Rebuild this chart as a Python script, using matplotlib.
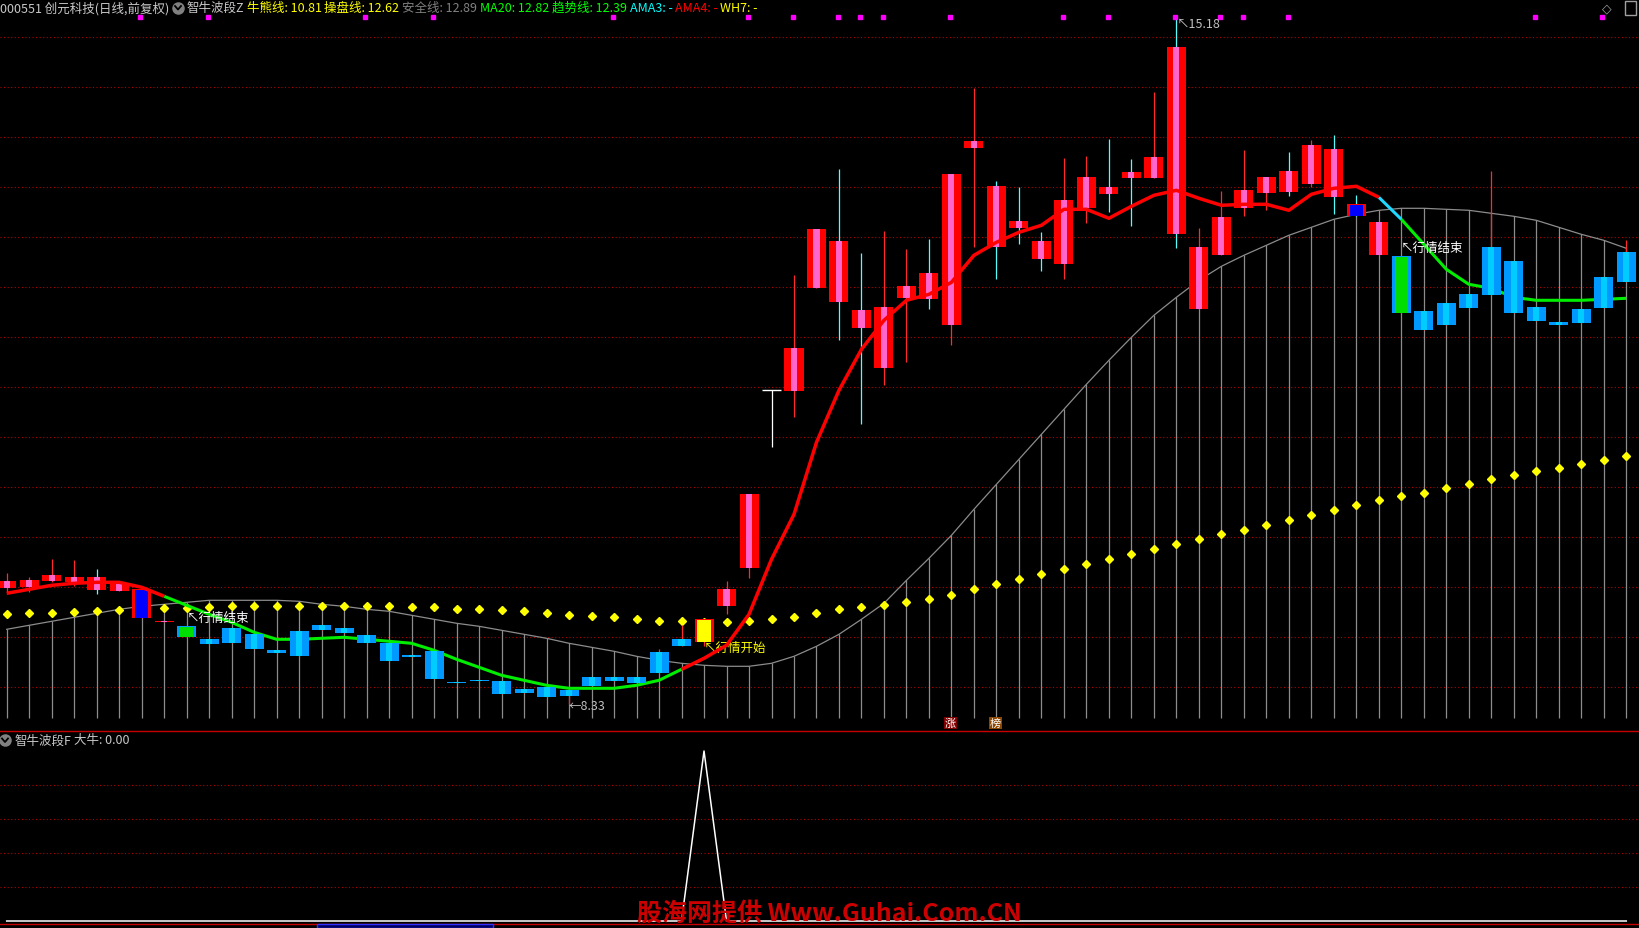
import matplotlib
matplotlib.use('Agg')
import matplotlib.pyplot as plt
from matplotlib.lines import Line2D
from matplotlib.patches import Rectangle
import numpy as np

plt.rcParams['font.family'] = ['Noto Sans CJK SC', 'DejaVu Sans']

# ---- K线数据 ----
opens = [9.49, 9.50, 9.56, 9.55, 9.47, 9.46, 9.48, 9.15, 9.11, 8.98,
         9.09, 9.03, 8.87, 9.06, 9.12, 9.09, 9.02, 8.94, 8.82, 8.86,
         8.55, 8.57, 8.56, 8.48, 8.50, 8.47, 8.60, 8.60, 8.60, 8.85,
         8.98, 8.95, 9.31, 9.69, 11.47, 11.46, 12.49, 12.35, 12.09, 11.69,
         12.39, 12.38, 12.12, 13.89, 12.90, 13.09, 12.78, 12.73, 13.29, 13.43,
         13.59, 13.59, 13.03, 12.28, 12.82, 13.29, 13.44, 13.45, 13.53, 13.40,
         13.33, 12.82, 12.81, 12.26, 12.34, 12.43, 12.90, 12.76, 12.30, 12.15,
         12.28, 12.60, 12.85]
highs = [9.64, 9.60, 9.78, 9.77, 9.68, 9.54, 9.48, 9.16, 9.11, 8.98,
         9.09, 9.03, 8.87, 9.06, 9.12, 9.09, 9.02, 8.94, 8.82, 8.86,
         8.55, 8.57, 8.56, 8.48, 8.50, 8.47, 8.60, 8.60, 8.60, 8.88,
         9.12, 9.18, 9.56, 10.43, 11.47, 12.62, 13.08, 13.68, 12.84, 13.06,
         12.88, 12.98, 13.63, 14.49, 13.56, 13.50, 13.05, 13.79, 13.81, 13.98,
         13.78, 14.45, 15.18, 13.09, 13.46, 13.87, 13.60, 13.85, 13.97, 14.02,
         13.42, 13.15, 12.81, 12.26, 12.34, 12.43, 13.66, 12.76, 12.30, 12.15,
         12.28, 12.60, 12.97]
lows = [9.45, 9.45, 9.55, 9.51, 9.43, 9.46, 9.19, 9.15, 9.00, 8.93,
        8.94, 8.88, 8.84, 8.81, 9.07, 9.04, 8.94, 8.76, 8.80, 8.58,
        8.54, 8.56, 8.43, 8.44, 8.40, 8.33, 8.51, 8.56, 8.54, 8.64,
        8.91, 8.91, 9.23, 9.59, 10.90, 11.20, 12.49, 11.97, 11.13, 11.52,
        11.75, 12.28, 11.92, 12.90, 12.58, 12.93, 12.66, 12.58, 13.14, 13.25,
        13.11, 13.59, 12.89, 12.28, 12.82, 13.21, 13.27, 13.41, 13.50, 13.23,
        13.21, 12.82, 12.24, 12.07, 12.12, 12.29, 12.42, 12.24, 12.16, 12.12,
        12.14, 12.29, 12.55]
closes = [9.56, 9.57, 9.62, 9.60, 9.60, 9.54, 9.19, 9.16, 9.00, 8.93,
          8.94, 8.88, 8.84, 8.81, 9.07, 9.04, 8.94, 8.76, 8.80, 8.58,
          8.54, 8.56, 8.43, 8.44, 8.40, 8.41, 8.51, 8.56, 8.54, 8.64,
          8.91, 9.18, 9.48, 10.43, 11.47, 11.89, 13.08, 12.96, 12.27, 12.30,
          12.51, 12.64, 13.63, 13.96, 13.51, 13.16, 12.96, 13.37, 13.60, 13.50,
          13.65, 13.80, 14.90, 12.90, 13.20, 13.47, 13.60, 13.66, 13.92, 13.88,
          13.21, 13.15, 12.24, 12.07, 12.12, 12.29, 12.42, 12.24, 12.16, 12.12,
          12.14, 12.29, 12.55]
# r红 b蓝 X蓝底红边 G绿底蓝边 Y黄底红边 W十字星
kinds = ("rrrrrrXrG"
         "bbbbbbbbbbbbbbbbbbbbbb"
         "YrrW"
         "rrrrrrrrrrrrrrrrrrrrrrrrr"
         "XrG"
         "bbbbbbbbbb")
cyan_wick = [4, 37, 38, 41, 44, 45, 46, 49, 50, 52, 57, 59, 60]

# 趋势线
trend = [9.44, 9.48, 9.52, 9.54, 9.55, 9.55, 9.50, 9.41, 9.32, 9.23,
         9.15, 9.05, 8.98, 8.98, 8.99, 9.00, 8.98, 8.96, 8.94, 8.87,
         8.78, 8.70, 8.62, 8.57, 8.52, 8.49, 8.49, 8.49, 8.52, 8.57,
         8.68, 8.79, 8.92, 9.23, 9.78, 10.23, 10.95, 11.47, 11.88, 12.17,
         12.37, 12.43, 12.55, 12.82, 12.95, 13.05, 13.12, 13.28, 13.28, 13.19,
         13.31, 13.42, 13.47, 13.39, 13.32, 13.33, 13.33, 13.27, 13.43, 13.49,
         13.51, 13.40, 13.18, 12.93, 12.68, 12.53, 12.49, 12.40, 12.37, 12.37,
         12.37, 12.38, 12.39]
# 安全线
safety = [9.08, 9.12, 9.16, 9.20, 9.24, 9.28, 9.31, 9.33, 9.35, 9.37,
          9.37, 9.37, 9.37, 9.36, 9.33, 9.31, 9.28, 9.26, 9.22, 9.18,
          9.14, 9.11, 9.07, 9.03, 8.99, 8.94, 8.90, 8.86, 8.81, 8.77,
          8.74, 8.72, 8.71, 8.71, 8.74, 8.81, 8.91, 9.03, 9.18, 9.34,
          9.57, 9.79, 10.02, 10.28, 10.53, 10.78, 11.03, 11.28, 11.53, 11.77,
          12.00, 12.22, 12.40, 12.57, 12.71, 12.82, 12.92, 13.02, 13.10, 13.18,
          13.23, 13.27, 13.29, 13.29, 13.28, 13.27, 13.24, 13.21, 13.17, 13.10,
          13.03, 12.97, 12.89]
# 牛熊线
bullbear = [9.23, 9.24, 9.24, 9.25, 9.26, 9.27, 9.28, 9.29, 9.29, 9.30,
            9.31, 9.31, 9.31, 9.31, 9.31, 9.31, 9.31, 9.31, 9.30, 9.30,
            9.28, 9.28, 9.27, 9.26, 9.24, 9.22, 9.21, 9.20, 9.18, 9.16,
            9.16, 9.15, 9.15, 9.16, 9.18, 9.20, 9.24, 9.28, 9.30, 9.32,
            9.35, 9.38, 9.42, 9.48, 9.53, 9.58, 9.63, 9.68, 9.73, 9.78,
            9.83, 9.88, 9.93, 9.98, 10.03, 10.07, 10.12, 10.17, 10.22, 10.27,
            10.32, 10.37, 10.41, 10.44, 10.49, 10.53, 10.58, 10.62, 10.66, 10.69,
            10.73, 10.77, 10.81]
flags = [6, 9, 16, 19, 27, 33, 35, 37, 38, 39, 42, 47, 49, 52, 54, 55, 57, 68, 71]
# 副图 大牛
signal = [0, 0, 0, 0, 0, 0, 0, 0, 0, 0, 0, 0, 0, 0, 0, 0, 0, 0, 0, 0,
          0, 0, 0, 0, 0, 0, 0, 0, 0, 0, 0, 1, 0, 0, 0, 0, 0, 0, 0, 0,
          0, 0, 0, 0, 0, 0, 0, 0, 0, 0, 0, 0, 0, 0, 0, 0, 0, 0, 0, 0,
          0, 0, 0, 0, 0, 0, 0, 0, 0, 0, 0, 0, 0]

header = [("000551 创元科技(日线,前复权)", '#c8c8c8', 0),
          ("智牛波段Z", '#c8c8c8', 187),
          ("牛熊线: 10.81", '#ffff00', 247),
          ("操盘线: 12.62", '#ffff00', 324),
          ("安全线: 12.89", '#808080', 402),
          ("MA20: 12.82", '#00ff00', 480),
          ("趋势线: 12.39", '#00ff00', 552),
          ("AMA3: -", '#00ffff', 630),
          ("AMA4: -", '#ff0000', 675),
          ("WH7: -", '#ffff00', 720)]

W, H = 1640, 929
fig = plt.figure(figsize=(16.4, 9.29), dpi=100, facecolor='black')


def fx(px):
    return px / W


def fy(py):
    return 1 - py / H


ax = fig.add_axes([0, fy(732), 1, 732 / H])
ax2 = fig.add_axes([0, fy(925), 1, (925 - 732) / H])
for a in (ax, ax2):
    a.set_facecolor('black')
    a.set_xlim(-0.298, 72.61)
    a.set_xticks([])
    a.set_yticks([])
    for s in a.spines.values():
        s.set_visible(False)
ax.set_ylim(8.063, 15.383)
ax2.set_ylim(-0.0176, 1.1176)
for side in ('top', 'bottom'):
    ax2.spines[side].set_visible(True)
    ax2.spines[side].set_color('#c80000')
    ax2.spines[side].set_linewidth(1.0)

grid_kw = dict(color='#b40000', lw=0.8, ls=(0, (1, 2.2)), zorder=0.5)
for p in np.arange(8.5, 15.01, 0.5):
    ax.axhline(p, **grid_kw)
for v in (0.2, 0.4, 0.6, 0.8):
    ax2.axhline(v, **grid_kw)

x = np.arange(len(opens))

# 安全线 + 柱
ax.vlines(x, 8.193, safety, color='#8c8c8c', lw=0.9, zorder=1)
ax.plot(x, safety, color='#8c8c8c', lw=0.9, zorder=1.1)

# 牛熊线点
ax.plot(x, bullbear, 'D', color='#ffff00', ms=4, ls='none', zorder=2)

# 趋势线
segs = [(0, 7, '#ff0000', 6, 2.5), (7, 30, '#00ee00', 3.5, 2.2),
        (30, 61, '#ff0000', 6, 2.5), (61, 62, '#20d8ff', 3.5, 2.2),
        (62, 72, '#00ee00', 3.5, 2.2)]
for s, e, c, z, lw in segs:
    ax.plot(x[s:e + 1], trend[s:e + 1], color=c, lw=lw, zorder=z,
            solid_capstyle='butt')

# K线
o = np.array(opens)
c = np.array(closes)
lo = np.minimum(o, c)
hgt = np.maximum(np.abs(c - o), 0.018)
wick_col = []
for i, k in enumerate(kinds):
    if k == 'W':
        wick_col.append('#ffffff')
    elif i in cyan_wick:
        wick_col.append('#54fcfc')
    else:
        wick_col.append('#ff2a2a')
ax.vlines(x, lows, highs, colors=wick_col, lw=0.9, zorder=3)

outer = {'r': '#ff0000', 'b': '#0099ff', 'X': '#ff0000', 'G': '#0099ff', 'Y': '#ff0000'}
inner = {'r': '#ff66cc', 'b': '#00ccff', 'X': '#0000ff', 'G': '#00dd00', 'Y': '#ffff00'}
for i, k in enumerate(kinds):
    if k == 'W':
        ax.hlines(closes[i], i - 0.42, i + 0.42, color='white', lw=1, zorder=4)
        continue
    ax.bar(i, hgt[i], 0.845, lo[i], color=outer[k], lw=0, zorder=4)
    if k in 'rb':
        ax.bar(i, hgt[i], 0.27, lo[i], color=inner[k], lw=0, zorder=4.1)
    else:
        ax.bar(i, hgt[i] - 0.016, 0.58, lo[i] + 0.008, color=inner[k], lw=0, zorder=4.1)

# 顶部标记
ax.plot(np.array(flags) - 0.06, [15.2] * len(flags), 's', color='#ff00ff', ms=2.4,
        ls='none', zorder=5)

# 文字标注
ax.text(8, 9.20, "↖行情结束", color='white', fontsize=9, va='center', ha='left', zorder=7)
ax.text(31, 8.90, "↖行情开始", color='#ffff00', fontsize=9, va='center', ha='left', zorder=5)
ax.text(62, 12.90, "↖行情结束", color='white', fontsize=9, va='center', ha='left', zorder=7)
ax.text(25, 8.316, "←8.33", color='#c0c0c0', fontsize=9, va='center', ha='left', zorder=7)
ax.text(52, 15.133, "↖15.18", color='#c0c0c0', fontsize=9, va='center', ha='left', zorder=7)
ax.text(41.95, 8.146, "涨", color='white', fontsize=8, va='center', ha='center', zorder=7,
        bbox=dict(boxstyle='square,pad=0.08', fc='#800000', ec='none'))
ax.text(43.95, 8.146, "榜", color='white', fontsize=8, va='center', ha='center', zorder=7,
        bbox=dict(boxstyle='square,pad=0.08', fc='#8c4600', ec='none'))

# 副图
ax2.plot(x, signal, color='white', lw=1.1, zorder=3)

# 标题
for txt, col, px in header:
    fig.text(fx(px), fy(8.5), txt, color=col, fontsize=9, va='center', ha='left')


def icon(px, py):
    fig.add_artist(Line2D([fx(px)], [fy(py)], marker='o', ms=8, color='#808080',
                          transform=fig.transFigure))
    fig.add_artist(Line2D([fx(px - 3), fx(px), fx(px + 3)], [fy(py - 1.5), fy(py + 2), fy(py - 1.5)],
                          color='black', lw=1.3, transform=fig.transFigure))


icon(178, 8.5)
icon(5, 741)
fig.text(fx(15), fy(741), "智牛波段F", color='#c8c8c8', fontsize=9, va='center', ha='left')
fig.text(fx(74), fy(741), "大牛: 0.00", color='#c8c8c8', fontsize=9, va='center', ha='left')

fig.text(fx(1607), fy(9), "◇", color='#a0a0a0', fontsize=9, va='center', ha='center',
         family=['DejaVu Sans'])
fig.add_artist(Rectangle((fx(1625), fy(16)), fx(11), 14 / H, fc='none', ec='#a0a0a0',
                         lw=1, transform=fig.transFigure))
fig.add_artist(Rectangle((fx(317), fy(929)), fx(176), 4 / H, fc='#000060', ec='#3030ff',
                         lw=1, transform=fig.transFigure))

fig.text(fx(637), fy(914), "股海网提供 Www.Guhai.Com.CN", color='#cc0000', fontsize=18,
         fontweight='bold', va='center', ha='left', zorder=10)

fig.savefig('out.png', dpi=100, facecolor='black')
